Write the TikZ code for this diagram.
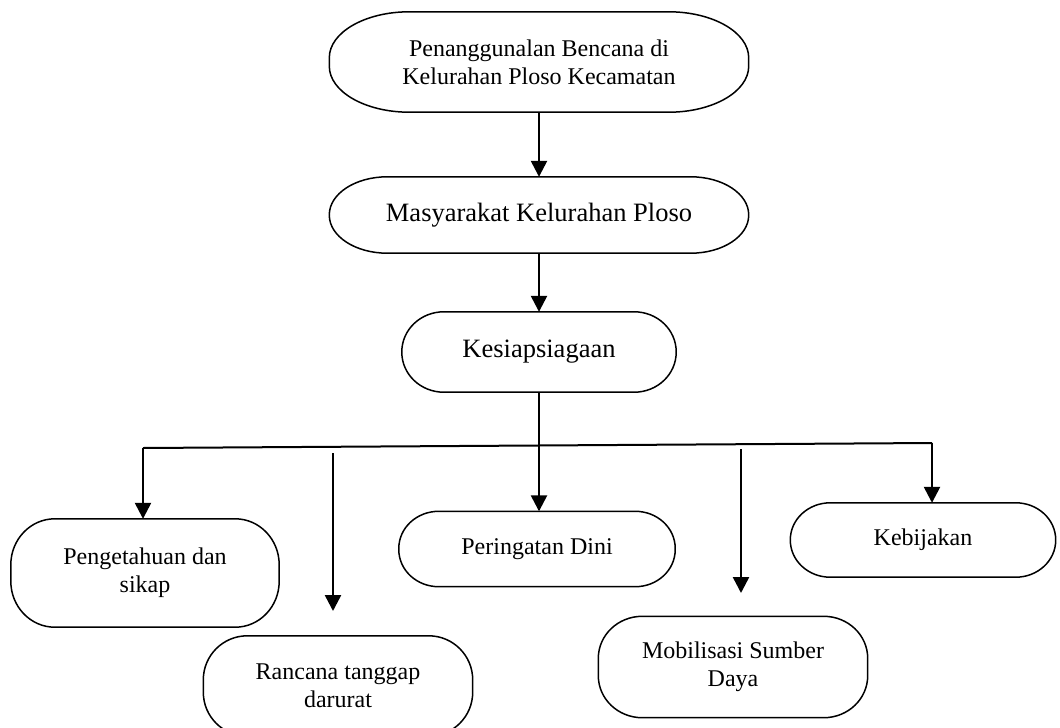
\documentclass[tikz,border=0pt]{standalone}
\usepackage{fontspec}
\setmainfont{Liberation Serif}
\usetikzlibrary{arrows.meta}
\begin{document}
\begin{tikzpicture}[x=1pt,y=-1pt,
  box/.style={align=center,inner sep=0pt,font=\fontsize{24}{28}\selectfont},
  bigbox/.style={box,font=\fontsize{26.5}{30}\selectfont},
  outline/.style={black,line width=1.5pt},
  arr/.style={black,line width=2.5pt,-{Triangle[length=16pt,width=16pt]}}]
\useasboundingbox (0,0) rectangle (1060,728);
\node [box,minimum width=419pt,minimum height=100pt] (plan) at (539,62) {Penanggunalan Bencana di\\Kelurahan Ploso Kecamatan};
\node [bigbox,minimum width=419pt,minimum height=76pt] (masy) at (539,215) {Masyarakat Kelurahan Ploso};
\node [bigbox,minimum width=274pt,minimum height=80pt] (siaga) at (539,352) {Kesiapsiagaan};
\node [box,minimum width=268pt,minimum height=108pt] (tahu) at (145,573) {Pengetahuan dan\\sikap};
\node [box,minimum width=269pt,minimum height=100pt] (rancana) at (338,686) {Rancana tanggap\\darurat};
\node [box,minimum width=276pt,minimum height=75pt] (dini) at (537,549) {Peringatan Dini};
\node [box,minimum width=269pt,minimum height=101pt] (mobil) at (733,667) {Mobilisasi Sumber\\Daya};
\node [box,minimum width=265pt,minimum height=74pt] (bijak) at (923,540) {Kebijakan};
\foreach \n/\rx/\ry in {plan/80pt/46pt,masy/58pt/38pt,siaga/42pt/40pt,tahu/44pt/46pt,rancana/44pt/44pt,dini/40pt/37pt,mobil/44pt/42pt,bijak/40pt/37pt}
  \draw [outline] ([xshift=\rx]\n.north west) -- ([xshift=-\rx]\n.north east)
    arc [start angle=90,end angle=0,x radius=\rx,y radius=\ry] -- ([yshift=\ry]\n.south east)
    arc [start angle=0,end angle=-90,x radius=\rx,y radius=\ry] -- ([xshift=\rx]\n.south west)
    arc [start angle=-90,end angle=-180,x radius=\rx,y radius=\ry] -- ([yshift=-\ry]\n.north west)
    arc [start angle=180,end angle=90,x radius=\rx,y radius=\ry] -- cycle;
\coordinate (bL) at (143,448);
\coordinate (bR) at (932,443);
\coordinate (rTop) at (333,453);
\coordinate (rEnd) at (333,611);
\coordinate (mTop) at (741,449);
\coordinate (mEnd) at (741,593);
\draw [arr] (plan) -- (masy);
\draw [arr] (masy) -- (siaga);
\draw [arr] (siaga.south) -- (siaga.south |- dini.north);
\draw [black,line width=2pt] (bL) -- (bR);
\draw [arr] (bL) -- (bL |- tahu.north);
\draw [arr] (bR) -- (bR |- bijak.north);
\draw [arr] (rTop) -- (rEnd);
\draw [arr] (mTop) -- (mEnd);
\end{tikzpicture}
\end{document}
